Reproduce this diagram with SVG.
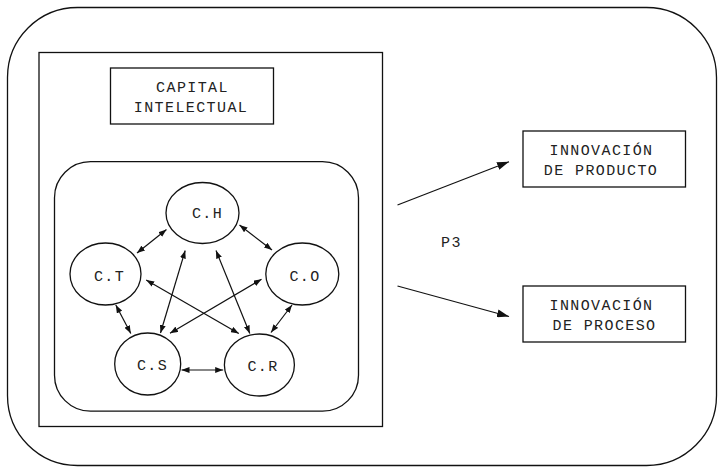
<svg xmlns="http://www.w3.org/2000/svg" width="718" height="467" viewBox="0 0 718 467">
<style>
  .frame{fill:none;stroke:#111;stroke-width:1.3}
  .node{fill:#fff;stroke:#111;stroke-width:1.3}
  .lbl{font-family:"Liberation Mono","Courier New",monospace;font-size:15px;letter-spacing:1.4px;fill:#222;text-anchor:middle}
  .con{fill:none;stroke:#111;stroke-width:1.2}
</style>
<defs>
  <marker id="sa" markerUnits="userSpaceOnUse" viewBox="0 0 8 6" refX="8" refY="3" markerWidth="8" markerHeight="6" orient="auto-start-reverse">
    <path d="M0,0 L8,3 L0,6 z" fill="#111"/>
  </marker>
  <marker id="ba" markerUnits="userSpaceOnUse" viewBox="0 0 12 8" refX="12" refY="4" markerWidth="12" markerHeight="8" orient="auto">
    <path d="M0,0 L12,4 L0,8 z" fill="#111"/>
  </marker>
</defs>

<rect class="frame" x="7.5" y="7.5" width="709" height="458" rx="70" ry="70"/>
<rect class="frame" x="39" y="52.5" width="343.5" height="374"/>

<g id="capital">
  <rect class="node" x="110.5" y="68" width="163" height="56"/>
  <text class="lbl" x="192.5" y="91.5">CAPITAL</text>
  <text class="lbl" x="191" y="111.5">INTELECTUAL</text>
</g>

<rect class="frame" x="54.5" y="161.7" width="304" height="249.5" rx="36" ry="36"/>

<g id="connectors">
  <line class="con" x1="137" y1="253" x2="166.5" y2="229.5" marker-start="url(#sa)" marker-end="url(#sa)"/>
  <line class="con" x1="239.5" y1="225" x2="272" y2="250" marker-start="url(#sa)" marker-end="url(#sa)"/>
  <line class="con" x1="115.8" y1="305" x2="130.8" y2="333.5" marker-start="url(#sa)" marker-end="url(#sa)"/>
  <line class="con" x1="292" y1="305" x2="271" y2="332.5" marker-start="url(#sa)" marker-end="url(#sa)"/>
  <line class="con" x1="181.5" y1="370" x2="223.2" y2="370" marker-start="url(#sa)" marker-end="url(#sa)"/>
  <line class="con" x1="185.2" y1="250.5" x2="160.5" y2="333" marker-start="url(#sa)" marker-end="url(#sa)"/>
  <line class="con" x1="216" y1="250.5" x2="249.8" y2="333.5" marker-start="url(#sa)" marker-end="url(#sa)"/>
  <line class="con" x1="146.2" y1="280" x2="238.8" y2="333.5" marker-start="url(#sa)" marker-end="url(#sa)"/>
  <line class="con" x1="261.5" y1="279.3" x2="170" y2="333.3" marker-start="url(#sa)" marker-end="url(#sa)"/>
  <line class="con" x1="397.5" y1="205" x2="509" y2="161.7" marker-end="url(#ba)"/>
  <line class="con" x1="397.5" y1="286" x2="509" y2="316.5" marker-end="url(#ba)"/>
</g>

<g id="ch">
  <ellipse class="node" cx="202.5" cy="213" rx="36.5" ry="30.5"/>
  <text class="lbl" x="207.5" y="217.5">C.H</text>
</g>
<g id="ct">
  <ellipse class="node" cx="105.5" cy="274" rx="35.5" ry="31"/>
  <text class="lbl" x="109.5" y="280.5">C.T</text>
</g>
<g id="co">
  <ellipse class="node" cx="302.3" cy="274" rx="36.5" ry="31"/>
  <text class="lbl" x="305" y="280.5">C.O</text>
</g>
<g id="cs">
  <ellipse class="node" cx="147.7" cy="364" rx="33" ry="31"/>
  <text class="lbl" x="152.5" y="369.5">C.S</text>
</g>
<g id="cr">
  <ellipse class="node" cx="259.4" cy="365" rx="35" ry="31"/>
  <text class="lbl" x="263" y="371">C.R</text>
</g>

<g id="p3">
  <text class="lbl" x="451.5" y="247">P3</text>
</g>

<g id="producto">
  <rect class="node" x="523" y="131" width="162.5" height="56"/>
  <text class="lbl" x="601.5" y="155">INNOVACIÓN</text>
  <text class="lbl" x="601" y="174.5">DE PRODUCTO</text>
</g>
<g id="proceso">
  <rect class="node" x="523" y="286" width="162.5" height="56"/>
  <text class="lbl" x="601.5" y="310">INNOVACIÓN</text>
  <text class="lbl" x="604.5" y="329.5">DE PROCESO</text>
</g>
</svg>
